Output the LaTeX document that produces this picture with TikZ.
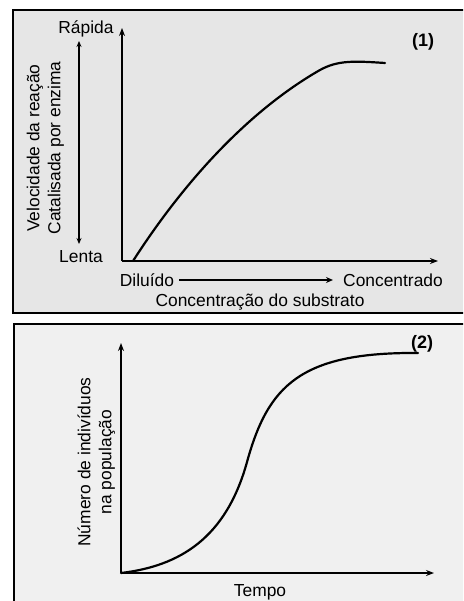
\documentclass[tikz,border=0pt]{standalone}
\usepackage{fontspec}
\setmainfont{Liberation Sans}
\usetikzlibrary{arrows.meta,calc}
\definecolor{panelA}{HTML}{E6E6E6}
\definecolor{panelB}{HTML}{F0F0F0}
\begin{document}
\begin{tikzpicture}[x=1pt,y=-1pt,
  panel/.style={draw=black,line width=2.2pt},
  axis/.style={line width=2pt,-{Stealth[length=8pt,width=6pt]}},
  curve/.style={line width=2.2pt,line cap=round},
  thin arrow/.style={line width=1.3pt},
  lbl/.style={font=\fontsize{17.4}{20}\selectfont,inner sep=0pt},
  tag/.style={font=\fontsize{18}{20}\selectfont\bfseries,inner sep=0pt}]
\useasboundingbox (0,0) rectangle (463,601);
\clip (0,0) rectangle (463,601);
% panel 1
\draw[panel,fill=panelA] (13,10) rectangle (475,313);
\coordinate (o1) at (122,261);
\coordinate (y1) at (122,28);
\coordinate (x1) at (438,261);
\draw[axis] (o1) -- (y1);
\draw[axis] (o1) -- (x1);
\draw[curve] (133,261) .. controls (185,180) and (250,110) .. (320,70)
  .. controls (338,60) and (355,61) .. (385,63);
\node[tag] (t1) at (423,42) {(1)};
\node[lbl] (rap) at (86,29) {Rápida};
\node[lbl] (len) at (81,257) {Lenta};
\coordinate (va) at (79,41);
\coordinate (vb) at (79,244);
\draw[thin arrow,{Stealth[length=6pt,width=5pt]}-{Stealth[length=6pt,width=5pt]}] (va) -- (vb);
\node[lbl,rotate=90] (vel) at (35,148) {Velocidade da reação};
\node[lbl,rotate=90] (cat) at (56,148) {Catalisada por enzima};
\node[lbl] (dil) at (147,280) {Diluído};
\node[lbl] (con) at (393,280) {Concentrado};
\draw[thin arrow,line width=1.6pt,-{Stealth[length=7pt,width=6pt]}] ($(dil.east)+(5,0)$) -- ($(con.west)+(-10,0)$);
\node[lbl] (sub) at (260,302) {Concentração do substrato};
% panel 2
\draw[panel,fill=panelB] (14,324) rectangle (475,615);
\coordinate (o2) at (121,573);
\coordinate (y2) at (121,343);
\coordinate (x2) at (434,573);
\draw[axis] (o2) -- (y2);
\draw[axis] (o2) -- (x2);
\draw[curve] (121,573) .. controls (180,566) and (226,538) .. (247,462)
  .. controls (268,386) and (300,352) .. (418,353);
\node[tag] (t2) at (422,344) {(2)};
\node[lbl,rotate=90] (num) at (84,462) {Número de indivíduos};
\node[lbl,rotate=90] (pop) at (107,462) {na população};
\node[lbl] (tem) at (260,592) {Tempo};
\end{tikzpicture}
\end{document}
